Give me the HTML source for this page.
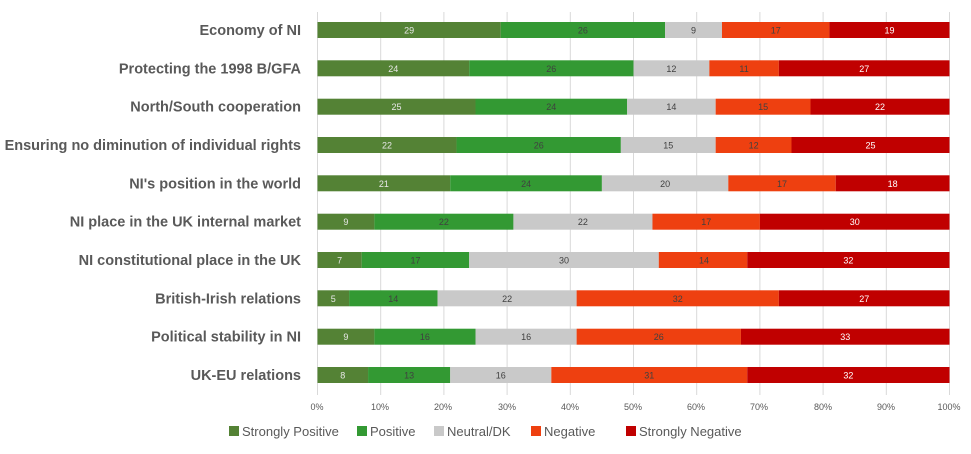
<!DOCTYPE html>
<html><head><meta charset="utf-8"><style>
body{margin:0;background:#fff;width:971px;height:449px;overflow:hidden}
svg{font-family:"Liberation Sans",sans-serif}
.l{font-size:14.5px;font-weight:bold;fill:#595959;text-anchor:end}
.v{font-size:9px;text-anchor:middle}
.a{fill:#548235}.b{fill:#339933}.c{fill:#c9c9c9}.d{fill:#ee4010}.e{fill:#c00000}
.w{fill:#e8e8e8}.k{fill:#404040}.f{fill:#fff}
</style></head><body>
<svg width="971" height="449" xmlns="http://www.w3.org/2000/svg">
<g stroke="#d9d9d9" stroke-width="1">
<line x1="317.5" y1="12" x2="317.5" y2="395"/><line x1="380.7" y1="12" x2="380.7" y2="395"/><line x1="443.9" y1="12" x2="443.9" y2="395"/><line x1="507.1" y1="12" x2="507.1" y2="395"/><line x1="570.3" y1="12" x2="570.3" y2="395"/><line x1="633.5" y1="12" x2="633.5" y2="395"/><line x1="696.7" y1="12" x2="696.7" y2="395"/><line x1="759.9" y1="12" x2="759.9" y2="395"/><line x1="823.1" y1="12" x2="823.1" y2="395"/><line x1="886.3" y1="12" x2="886.3" y2="395"/><line x1="949.5" y1="12" x2="949.5" y2="395"/>
</g>
<g font-size="9" fill="#595959" text-anchor="middle">
<text x="317" y="410">0%</text><text x="380" y="410">10%</text><text x="443" y="410">20%</text><text x="507" y="410">30%</text><text x="570" y="410">40%</text><text x="633" y="410">50%</text><text x="696" y="410">60%</text><text x="759" y="410">70%</text><text x="823" y="410">80%</text><text x="886" y="410">90%</text><text x="949" y="410">100%</text>
</g>

<g transform="translate(0,22)">
<text class="l" x="301" y="13">Economy of NI</text>
<rect class="a" x="317.5" y="0" width="183.28" height="16"/><rect class="b" x="500.78" y="0" width="164.32" height="16"/><rect class="c" x="665.1" y="0" width="56.88" height="16"/><rect class="d" x="721.98" y="0" width="107.44" height="16"/><rect class="e" x="829.42" y="0" width="120.08" height="16"/>
<text class="v w" x="409.1" y="11.5">29</text><text class="v k" x="582.9" y="11.5">26</text><text class="v k" x="693.5" y="11.5">9</text><text class="v k" x="775.7" y="11.5">17</text><text class="v f" x="889.5" y="11.5">19</text>
</g>
<g transform="translate(0,60.3)">
<text class="l" x="301" y="13">Protecting the 1998 B/GFA</text>
<rect class="a" x="317.5" y="0" width="151.68" height="16"/><rect class="b" x="469.18" y="0" width="164.32" height="16"/><rect class="c" x="633.5" y="0" width="75.84" height="16"/><rect class="d" x="709.34" y="0" width="69.52" height="16"/><rect class="e" x="778.86" y="0" width="170.64" height="16"/>
<text class="v w" x="393.3" y="11.5">24</text><text class="v k" x="551.3" y="11.5">26</text><text class="v k" x="671.4" y="11.5">12</text><text class="v k" x="744.1" y="11.5">11</text><text class="v f" x="864.2" y="11.5">27</text>
</g>
<g transform="translate(0,98.7)">
<text class="l" x="301" y="13">North/South cooperation</text>
<rect class="a" x="317.5" y="0" width="158" height="16"/><rect class="b" x="475.5" y="0" width="151.68" height="16"/><rect class="c" x="627.18" y="0" width="88.48" height="16"/><rect class="d" x="715.66" y="0" width="94.8" height="16"/><rect class="e" x="810.46" y="0" width="139.04" height="16"/>
<text class="v w" x="396.5" y="11.5">25</text><text class="v k" x="551.3" y="11.5">24</text><text class="v k" x="671.4" y="11.5">14</text><text class="v k" x="763.1" y="11.5">15</text><text class="v f" x="880" y="11.5">22</text>
</g>
<g transform="translate(0,137)">
<text class="l" x="301" y="13">Ensuring no diminution of individual rights</text>
<rect class="a" x="317.5" y="0" width="139.04" height="16"/><rect class="b" x="456.54" y="0" width="164.32" height="16"/><rect class="c" x="620.86" y="0" width="94.8" height="16"/><rect class="d" x="715.66" y="0" width="75.84" height="16"/><rect class="e" x="791.5" y="0" width="158" height="16"/>
<text class="v w" x="387" y="11.5">22</text><text class="v k" x="538.7" y="11.5">26</text><text class="v k" x="668.3" y="11.5">15</text><text class="v k" x="753.6" y="11.5">12</text><text class="v f" x="870.5" y="11.5">25</text>
</g>
<g transform="translate(0,175.3)">
<text class="l" x="301" y="13">NI's position in the world</text>
<rect class="a" x="317.5" y="0" width="132.72" height="16"/><rect class="b" x="450.22" y="0" width="151.68" height="16"/><rect class="c" x="601.9" y="0" width="126.4" height="16"/><rect class="d" x="728.3" y="0" width="107.44" height="16"/><rect class="e" x="835.74" y="0" width="113.76" height="16"/>
<text class="v w" x="383.9" y="11.5">21</text><text class="v k" x="526.1" y="11.5">24</text><text class="v k" x="665.1" y="11.5">20</text><text class="v k" x="782" y="11.5">17</text><text class="v f" x="892.6" y="11.5">18</text>
</g>
<g transform="translate(0,213.7)">
<text class="l" x="301" y="13">NI place in the UK internal market</text>
<rect class="a" x="317.5" y="0" width="56.88" height="16"/><rect class="b" x="374.38" y="0" width="139.04" height="16"/><rect class="c" x="513.42" y="0" width="139.04" height="16"/><rect class="d" x="652.46" y="0" width="107.44" height="16"/><rect class="e" x="759.9" y="0" width="189.6" height="16"/>
<text class="v w" x="345.9" y="11.5">9</text><text class="v k" x="443.9" y="11.5">22</text><text class="v k" x="582.9" y="11.5">22</text><text class="v k" x="706.2" y="11.5">17</text><text class="v f" x="854.7" y="11.5">30</text>
</g>
<g transform="translate(0,252)">
<text class="l" x="301" y="13">NI constitutional place in the UK</text>
<rect class="a" x="317.5" y="0" width="44.24" height="16"/><rect class="b" x="361.74" y="0" width="107.44" height="16"/><rect class="c" x="469.18" y="0" width="189.6" height="16"/><rect class="d" x="658.78" y="0" width="88.48" height="16"/><rect class="e" x="747.26" y="0" width="202.24" height="16"/>
<text class="v w" x="339.6" y="11.5">7</text><text class="v k" x="415.5" y="11.5">17</text><text class="v k" x="564" y="11.5">30</text><text class="v k" x="704" y="11.5">14</text><text class="v f" x="848.4" y="11.5">32</text>
</g>
<g transform="translate(0,290.3)">
<text class="l" x="301" y="13">British-Irish relations</text>
<rect class="a" x="317.5" y="0" width="31.6" height="16"/><rect class="b" x="349.1" y="0" width="88.48" height="16"/><rect class="c" x="437.58" y="0" width="139.04" height="16"/><rect class="d" x="576.62" y="0" width="202.24" height="16"/><rect class="e" x="778.86" y="0" width="170.64" height="16"/>
<text class="v w" x="333.3" y="11.5">5</text><text class="v k" x="393.3" y="11.5">14</text><text class="v k" x="507.1" y="11.5">22</text><text class="v k" x="677.7" y="11.5">32</text><text class="v f" x="864.2" y="11.5">27</text>
</g>
<g transform="translate(0,328.7)">
<text class="l" x="301" y="13">Political stability in NI</text>
<rect class="a" x="317.5" y="0" width="56.88" height="16"/><rect class="b" x="374.38" y="0" width="101.12" height="16"/><rect class="c" x="475.5" y="0" width="101.12" height="16"/><rect class="d" x="576.62" y="0" width="164.32" height="16"/><rect class="e" x="740.94" y="0" width="208.56" height="16"/>
<text class="v w" x="345.9" y="11.5">9</text><text class="v k" x="424.9" y="11.5">16</text><text class="v k" x="526.1" y="11.5">16</text><text class="v k" x="658.8" y="11.5">26</text><text class="v f" x="845.2" y="11.5">33</text>
</g>
<g transform="translate(0,367)">
<text class="l" x="301" y="13">UK-EU relations</text>
<rect class="a" x="317.5" y="0" width="50.56" height="16"/><rect class="b" x="368.06" y="0" width="82.16" height="16"/><rect class="c" x="450.22" y="0" width="101.12" height="16"/><rect class="d" x="551.34" y="0" width="195.92" height="16"/><rect class="e" x="747.26" y="0" width="202.24" height="16"/>
<text class="v w" x="342.8" y="11.5">8</text><text class="v k" x="409.1" y="11.5">13</text><text class="v k" x="500.8" y="11.5">16</text><text class="v k" x="649.3" y="11.5">31</text><text class="v f" x="848.4" y="11.5">32</text>
</g>

<g font-size="13" fill="#595959">
<rect x="229" y="426" width="10" height="10" fill="#548235"/><text x="242" y="436">Strongly Positive</text>
<rect x="357" y="426" width="10" height="10" fill="#339933"/><text x="370" y="436">Positive</text>
<rect x="434" y="426" width="10" height="10" fill="#c9c9c9"/><text x="447" y="436">Neutral/DK</text>
<rect x="531" y="426" width="10" height="10" fill="#ee4010"/><text x="544" y="436">Negative</text>
<rect x="626" y="426" width="10" height="10" fill="#c00000"/><text x="639" y="436">Strongly Negative</text>
</g>
</svg>
</body></html>
